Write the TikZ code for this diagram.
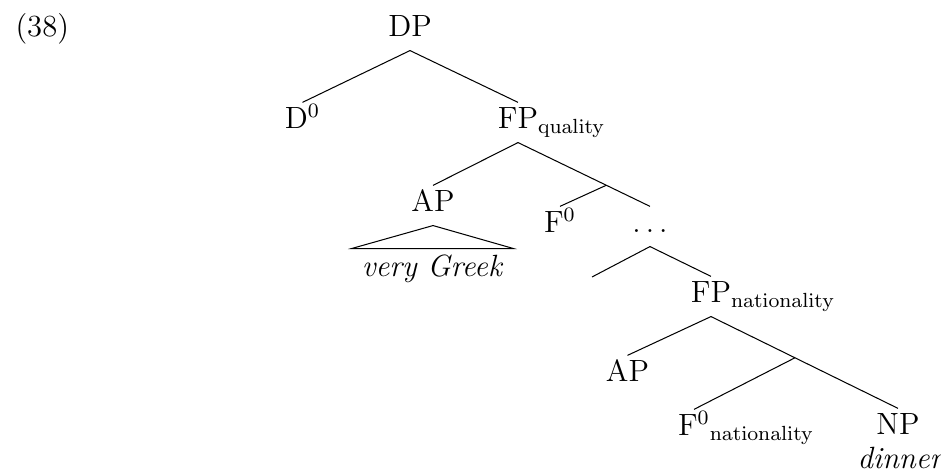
\documentclass[tikz,border=0pt]{standalone}
\usetikzlibrary{calc}
\begin{document}
\begin{tikzpicture}[x=0.3906pt, y=-0.3906pt,
  font=\fontsize{12}{14.5}\selectfont,
  lbl/.style={anchor=base, inner sep=1.7pt, text height=8.5pt, text depth=3.4pt},
  roof/.style={anchor=base, inner xsep=0pt, inner ysep=2.4pt, text height=8.5pt, text depth=0pt, minimum width=62.9pt},
  leaf/.style={anchor=base, inner sep=0pt}]
\useasboundingbox (0,0) rectangle (941,472);

% example number
\node[anchor=base west, inner sep=0pt] (ex) at (15,37) {(38)};

% labels of the tree
\node[lbl] (dp) at (410,37) {DP};
\node[lbl] (dzero) at (302.5,129) {D$^0$};
\node[lbl] (fpq) at (518,129) {FP\rlap{$_{\mathrm{quality}}$}};
\node[lbl] (apq) at (433,212) {AP};
\node[roof] (vg) at (432.5,277) {\textit{very Greek}};
\node[lbl] (fzero) at (560,233) {F$^0$};
\node[lbl] (dots) at (650,233) {$\ldots$};
\node[lbl] (fpn) at (711,303) {FP\rlap{$_{\mathrm{nationality}}$}};
\node[lbl] (apn) at (627.5,382) {AP};
\node[lbl] (fzn) at (694,436) {F$^0$\rlap{$_{\mathrm{nationality}}$}};
\node[lbl] (np) at (898,435) {NP};
\node[leaf] (dinner) at (901,469) {\textit{dinner}};

% empty nodes
\coordinate (fbar) at ($(fpq.south)!0.669!(dots.north)$);
\coordinate (gap) at (592,277);
\coordinate (fnbar) at ($(fpn.south)!0.449!(np.north)$);

% branches
\draw (dp.south) -- (dzero.north);
\draw (dp.south) -- (fpq.north);
\draw (fpq.south) -- (apq.north);
\draw (fpq.south) -- (fbar) -- (dots.north);
\draw (fbar) -- (fzero.north);
\draw (apq.south) -- (vg.north west) -- (vg.north east) -- cycle;
\draw (dots.south) -- (gap);
\draw (dots.south) -- (fpn.north);
\draw (fpn.south) -- (apn.north);
\draw (fpn.south) -- (fnbar) -- (np.north);
\draw (fnbar) -- (fzn.north);
\end{tikzpicture}
\end{document}
